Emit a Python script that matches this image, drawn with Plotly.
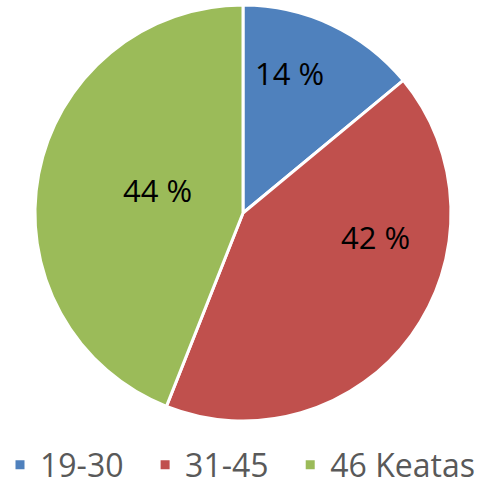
import plotly.graph_objects as go

labels = ["19-30", "31-45", "46 Keatas"]
values = [14, 42, 44]
colors = ["#4F81BD", "#C0504D", "#9BBB59"]
text_labels = ["14 %", "42 %", "44 %"]

W, H = 489, 498

# legend entries padded with non-breaking spaces to widen the gap between entries
legend_names = [l + ("\u00a0" * 2 if i < len(labels) - 1 else "") for i, l in enumerate(labels)]

fig = go.Figure(go.Pie(
    labels=legend_names,
    values=values,
    textinfo="none",
    hoverinfo="skip",
    sort=False,
    direction="clockwise",
    rotation=0,
    marker=dict(colors=colors, line=dict(color="white", width=3)),
    domain=dict(x=[35/W, 451/W], y=[1-421/H, 1-5/H]),
))

# data label placement (paper coordinates)
label_pos = [(289, 73), (375, 237), (157, 190)]
for t, (px, py) in zip(text_labels, label_pos):
    fig.add_annotation(x=px/W, y=1-py/H, xref="paper", yref="paper", text=t,
                       showarrow=False, xanchor="center", yanchor="middle",
                       font=dict(family="Open Sans, sans-serif", size=31, color="black"))

fig.update_layout(
    width=W, height=H,
    margin=dict(l=0, r=0, t=0, b=0),
    paper_bgcolor="white",
    showlegend=True,
    legend=dict(orientation="h", x=0.0, xanchor="left", y=1-465/H, yanchor="middle",
                font=dict(family="Open Sans, sans-serif", size=32, color="#595959"),
                itemwidth=30, traceorder="normal"),
)

fig.write_html("out.html", config={"displayModeBar": False},
               post_script="document.body.style.margin='0';document.body.style.overflow='hidden';")
